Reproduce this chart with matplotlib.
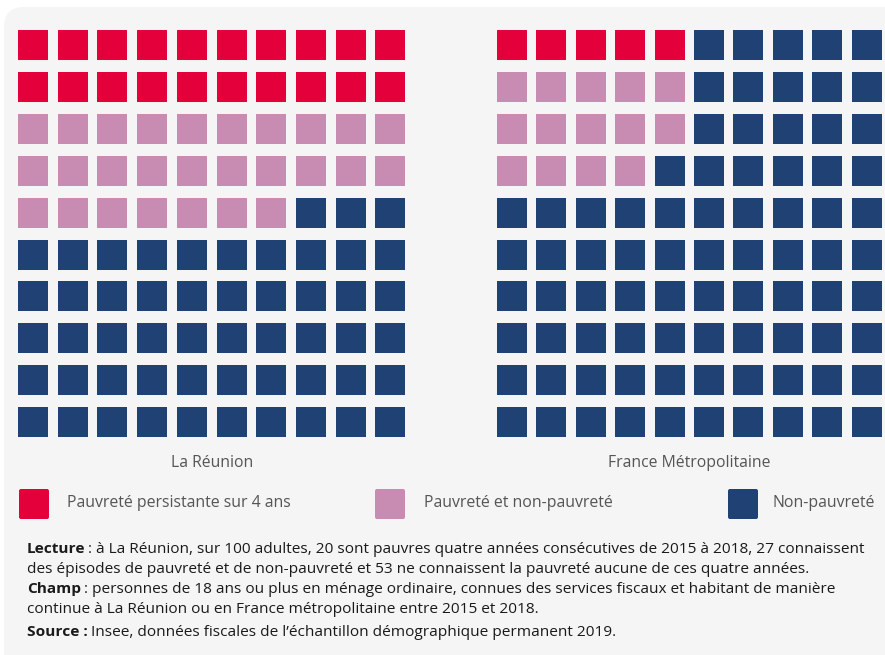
import matplotlib.pyplot as plt
from matplotlib.patches import Rectangle, FancyBboxPatch

plt.rcParams['font.family'] = ['Open Sans', 'DejaVu Sans']

# data
regions = ["La Réunion", "France Métropolitaine"]
persistante = [20, 5]
alternance = [27, 14]
non_pauvrete = [53, 81]
block_width = [10, 5]  # how the cells are filled in each waffle

categories = ["Pauvreté persistante sur 4 ans", "Pauvreté et non-pauvreté", "Non-pauvreté"]
colors = ["#e4003a", "#c88cb2", "#1f4173"]

notes = [
    ("Lecture", " : à La Réunion, sur 100 adultes, 20 sont pauvres quatre années consécutives de 2015 à 2018, 27 connaissent"),
    ("", "des épisodes de pauvreté et de non-pauvreté et 53 ne connaissent la pauvreté aucune de ces quatre années."),
    ("Champ", " : personnes de 18 ans ou plus en ménage ordinaire, connues des services fiscaux et habitant de manière"),
    ("", "continue à La Réunion ou en France métropolitaine entre 2015 et 2018."),
    ("Source :", " Insee, données fiscales de l\u2019échantillon démographique permanent 2019."),
]

W, H = 885, 655
fig = plt.figure(figsize=(W / 100, H / 100), dpi=100)
ax = fig.add_axes([0, 0, 1, 1])
ax.set_xlim(0, W)
ax.set_ylim(H, 0)
ax.axis("off")

ax.add_patch(FancyBboxPatch((4, 7), W + 40, H + 40, boxstyle="round,pad=0,rounding_size=20",
                            fc="#f5f5f5", ec="none"))


def cell_order(bw):
    cells = []
    for b in range(10 // bw):
        for r in range(10):
            for c in range(bw):
                cells.append((r, b * bw + c))
    return cells


x0s = [18, 497]
pitch_x = [39.7, 39.4]
pitch_y = 41.9
size = 30
y0 = 30

for i, name in enumerate(regions):
    counts = [persistante[i], alternance[i], non_pauvrete[i]]
    seq = []
    for k, n in enumerate(counts):
        seq += [colors[k]] * n
    for (r, c), col in zip(cell_order(block_width[i]), seq):
        ax.add_patch(Rectangle((x0s[i] + c * pitch_x[i], y0 + r * pitch_y), size, size,
                               fc=col, ec="none"))
    cx = x0s[i] + (9 * pitch_x[i] + size) / 2
    ax.text(cx, 463, name, ha="center", va="center", fontsize=11.3, color="#555555")

leg_x = [19, 375, 728]
leg_tx = [67, 424, 772]
for k, lab in enumerate(categories):
    ax.add_patch(FancyBboxPatch((leg_x[k], 489), 30, 30, boxstyle="round,pad=0,rounding_size=2",
                                fc=colors[k], ec="none"))
    ax.text(leg_tx[k], 503, lab, ha="left", va="center", fontsize=11.4, color="#555555")

renderer = fig.canvas.get_renderer()
baselines = [553, 573, 593, 613, 636]
for (bold, rest), y in zip(notes, baselines):
    x = 27
    if bold:
        t = ax.text(x, y, bold, ha="left", va="baseline", fontsize=11.1, fontweight="bold", color="#1a1a1a")
        bb = t.get_window_extent(renderer=renderer)
        x = x + bb.width - 1
    ax.text(x, y, rest, ha="left", va="baseline", fontsize=11.1, color="#1a1a1a")

fig.savefig("out.png", dpi=100, facecolor="white")
